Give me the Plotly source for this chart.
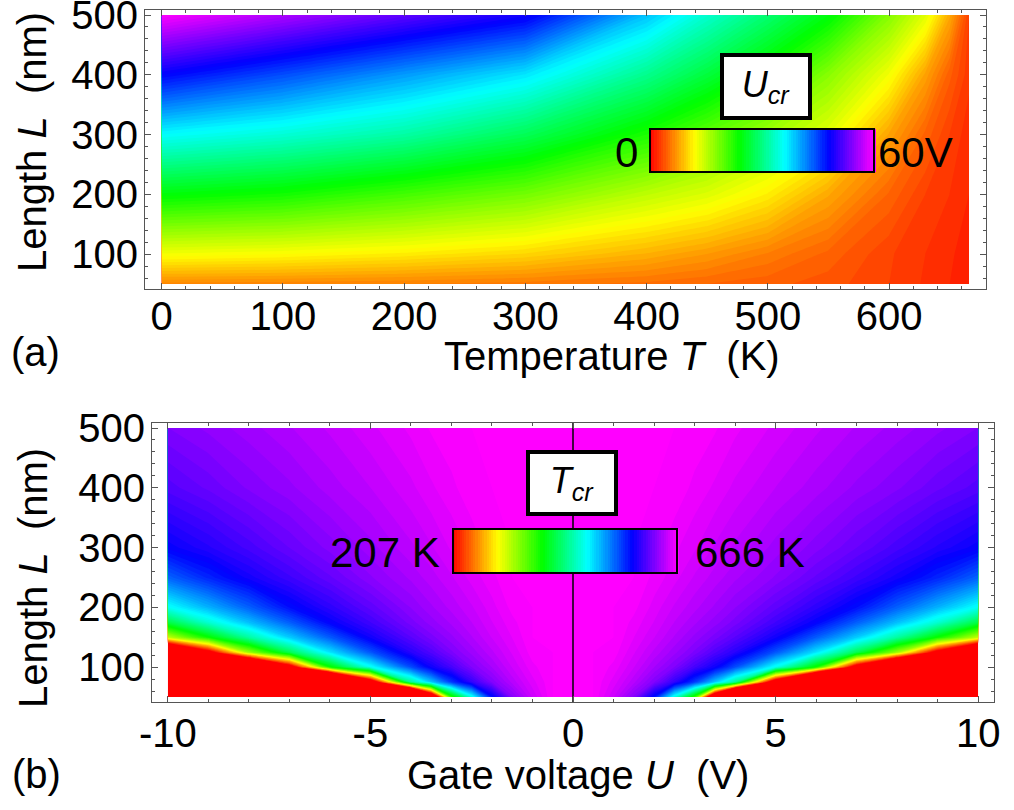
import plotly.graph_objects as go

W, H = 1014, 810
FONT = "Liberation Sans, Arial, Helvetica, sans-serif"

def px(x):
    return x / W

def py(y):
    return 1 - y / H

# ---------------- Panel (a): critical voltage U_cr(T, L) ----------------
T_grid = [0, 100, 200, 300, 400, 450, 500, 550, 600, 630, 650, 666]
L_grid_a = [50, 100, 200, 300, 400, 500]
Ucr = [
    [6.3, 6.2, 6.0, 5.7, 5.2, 4.8, 4.4, 3.9, 3.0, 2.3, 1.8, 1.4],
    [12.5, 12.0, 11.2, 10.1, 8.3, 7.2, 5.9, 4.6, 3.1, 2.4, 1.9, 1.5],
    [24.4, 23.2, 20.9, 18.6, 15.1, 13.6, 11.3, 7.9, 4.7, 3.0, 2.4, 1.8],
    [36.0, 34.1, 31.7, 28.0, 22.8, 19.6, 16.4, 13.2, 7.7, 4.6, 3.0, 2.0],
    [48.0, 44.4, 40.7, 37.1, 30.6, 26.8, 22.7, 17.6, 12.5, 7.6, 4.4, 2.6],
    [60.0, 56.2, 52.5, 48.8, 38.9, 33.7, 29.2, 24.6, 17.8, 13.4, 8.0, 3.0],
]
Ucr_min, Ucr_max = 0, 60

# ---------------- Panel (b): critical temperature T_cr(U, L) ----------------
# values below 207 K are shown as the lowest colour (red)
U_half = [0, 0.5, 1, 1.5, 2, 2.5, 3, 3.5, 4, 5, 6, 7, 8, 9, 10]
L_grid_b = [50, 75, 100, 125, 150, 175, 200, 250, 300, 400, 500]
Tcr_half = [
    [666, 666, 648, 623, 570, 472, 373, 100, -186, -500, -700, -900, -900, -900, -900],
    [666, 666, 655, 640, 621, 592, 554, 502, 444, 150, -151, -400, -700, -900, -900],
    [666, 666, 660, 648, 634, 620, 599, 579, 547, 477, 385, 170, -15, -300, -300],
    [666, 666, 664, 653, 642, 631, 619, 603, 588, 544, 492, 421, 336, 185, 35],
    [666, 666, 666, 657, 648, 638, 628, 618, 606, 580, 542, 501, 449, 389, 322],
    [666, 666, 666, 660, 652, 643, 635, 627, 618, 597, 575, 541, 506, 467, 416],
    [666, 666, 666, 663, 655, 647, 640, 633, 625, 608, 590, 570, 540, 510, 479],
    [666, 666, 666, 666, 660, 654, 647, 641, 635, 624, 610, 596, 581, 562, 539],
    [666, 666, 666, 666, 664, 658, 653, 647, 642, 632, 622, 611, 599, 587, 576],
    [666, 666, 666, 666, 666, 665, 660, 656, 651, 643, 636, 628, 621, 612, 604],
    [666, 666, 666, 666, 666, 666, 665, 662, 658, 651, 644, 638, 632, 626, 620],
]
Tcr_min, Tcr_max = 207, 666

# symmetric in U: mirror the half table
U_full = [-u for u in reversed(U_half[1:])] + U_half
Tcr_full = [list(reversed(row[1:])) + row for row in Tcr_half]

rainbow = [
    [0.0, "#ff0000"], [0.2, "#ffff00"], [0.4, "#00ff00"],
    [0.6, "#00ffff"], [0.8, "#0000ff"], [1.0, "#ff00ff"],
]

# layout geometry (pixels)
A_FRAME = (145, 986, 10, 289)
B_FRAME = (152, 994, 423, 702)
L_RANGE = [41.6, 508.4]

fig = go.Figure()

fig.add_trace(go.Contour(
    x=T_grid, y=L_grid_a, z=Ucr,
    colorscale=rainbow, zmin=Ucr_min, zmax=Ucr_max,
    autocontour=False,
    contours=dict(start=Ucr_min, end=Ucr_max, size=0.6, coloring="fill", showlines=False),
    line=dict(width=0, smoothing=0), hoverinfo="skip",
    showscale=True,
    colorbar=dict(
        orientation="h", x=px(762), xanchor="center", y=py(129), yanchor="top",
        len=224, lenmode="pixels", thickness=43, thicknessmode="pixels",
        outlinewidth=2, outlinecolor="black", showticklabels=False, ticks="",
        xpad=0, ypad=0,
    ),
    xaxis="x", yaxis="y",
))

fig.add_trace(go.Contour(
    x=U_full, y=L_grid_b, z=Tcr_full,
    colorscale=rainbow, zmin=Tcr_min, zmax=Tcr_max,
    autocontour=False,
    contours=dict(start=Tcr_min, end=Tcr_max, size=4.59, coloring="fill", showlines=False),
    line=dict(width=0, smoothing=0), hoverinfo="skip",
    showscale=True,
    colorbar=dict(
        orientation="h", x=px(565), xanchor="center", y=py(529), yanchor="top",
        len=224, lenmode="pixels", thickness=44, thicknessmode="pixels",
        outlinewidth=2, outlinecolor="black", showticklabels=False, ticks="",
        xpad=0, ypad=0,
    ),
    xaxis="x2", yaxis="y2",
))

# vertical line at U = 0
fig.add_trace(go.Scatter(
    x=[0, 0], y=L_RANGE, mode="lines", line=dict(color="black", width=1.5),
    hoverinfo="skip", showlegend=False, xaxis="x2", yaxis="y2",
))

axis_common = dict(
    showgrid=False, zeroline=False, showline=True, linecolor="#555", linewidth=1,
    mirror="allticks", ticks="inside", ticklen=6, tickwidth=1, tickcolor="#555",
    tickfont=dict(family=FONT, size=40, color="black"), ticklabeloverflow="allow",
)

fig.update_layout(
    width=W, height=H, margin=dict(l=0, r=0, t=0, b=0, autoexpand=False),
    paper_bgcolor="white", plot_bgcolor="white", showlegend=False,
    xaxis=dict(
        domain=[px(A_FRAME[0]), px(A_FRAME[1])], range=[-13.8, 680], anchor="y",
        tickvals=[0, 100, 200, 300, 400, 500, 600],
        minor=dict(dtick=20, tick0=0, ticklen=3, ticks="inside", tickcolor="#555"),
        ticklabelstandoff=-8, **axis_common,
    ),
    yaxis=dict(
        domain=[py(A_FRAME[3]), py(A_FRAME[2])], range=L_RANGE, anchor="x",
        tickvals=[100, 200, 300, 400, 500],
        minor=dict(dtick=20, tick0=0, ticklen=3, ticks="inside", tickcolor="#555"),
        ticklabelstandoff=-2, **axis_common,
    ),
    xaxis2=dict(
        domain=[px(B_FRAME[0]), px(B_FRAME[1])], range=[-10.39, 10.39], anchor="y2",
        tickvals=[-10, -5, 0, 5, 10], ticktext=["-10", "-5", "0", "5", "10"],
        minor=dict(dtick=1, tick0=0, ticklen=3, ticks="inside", tickcolor="#555"),
        ticklabelstandoff=-4, **axis_common,
    ),
    yaxis2=dict(
        domain=[py(B_FRAME[3]), py(B_FRAME[2])], range=L_RANGE, anchor="x2",
        tickvals=[100, 200, 300, 400, 500],
        minor=dict(dtick=20, tick0=0, ticklen=3, ticks="inside", tickcolor="#555"),
        ticklabelstandoff=-2, **axis_common,
    ),
)

def ann(text, x, y, size=40, xanchor="center", yanchor="middle", angle=0, **kw):
    fig.add_annotation(
        text=text, x=px(x), y=py(y), xref="paper", yref="paper",
        xanchor=xanchor, yanchor=yanchor, textangle=angle, showarrow=False,
        font=dict(family=FONT, size=size, color="black"), **kw,
    )

NB = "\u00a0"
# axis titles and panel labels
ann("Length <i>L</i>" + NB + NB + "(nm)", 32, 142, angle=-90)
ann("Length <i>L</i>" + NB + NB + "(nm)", 33, 578, angle=-90)
ann("Temperature <i>T</i>" + NB + NB + "(K)", 612, 356)
ann("Gate voltage <i>U</i>" + NB + NB + "(V)", 578, 775)
ann("(a)", 35, 352)
ann("(b)", 36, 774)

# inset legends
ann("<i>U</i><sub><i>cr</i></sub>", 766, 86.5, size=36, width=80, height=55,
    bgcolor="white", bordercolor="black", borderwidth=4, borderpad=2)
ann("<i>T</i><sub><i>cr</i></sub>", 572, 483, size=36, width=80, height=54,
    bgcolor="white", bordercolor="black", borderwidth=4, borderpad=2)
ann("0", 640, 152, size=42, xanchor="right")
ann("60V", 876, 152, size=42, xanchor="left")
ann("207" + NB + "K", 442, 552, size=42, xanchor="right")
ann("666" + NB + "K", 693, 552, size=42, xanchor="left")

fig.write_html(
    "out.html",
    config={"displayModeBar": False},
    post_script="document.body.style.margin='0px';",
)
